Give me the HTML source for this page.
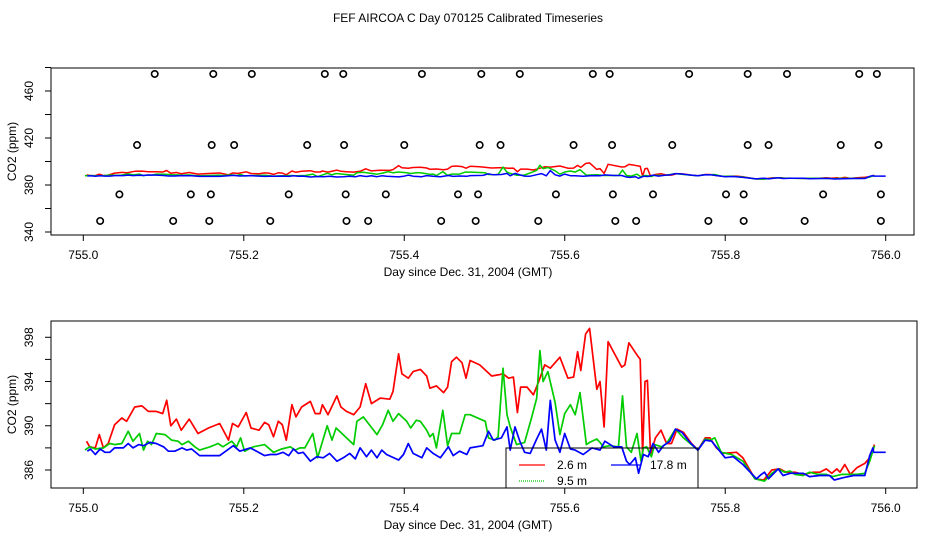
<!DOCTYPE html>
<html><head><meta charset="utf-8"><style>
body{margin:0;background:#fff}
svg{display:block;font-family:"Liberation Sans",sans-serif}
</style></head><body>
<svg id="c" width="936" height="540" viewBox="0 0 936 540"></svg>
<script>
const redDays=[.004,.008,.015,.020,.025,.031,.039,.048,.054,.064,.073,.081,.091,.099,.104,.109,.116,.122,.132,.143,.156,.170,.181,.186,.193,.203,.209,.219,.226,.231,.237,.243,.248,.253,.260,.265,.272,.283,.289,.295,.298,.305,.316,.321,.328,.337,.345,.352,.359,.370,.382,.386,.393,.397,.405,.411,.420,.428,.432,.440,.449,.454,.459,.465,.472,.477,.482,.494,.509,.517,.523,.530,.536,.541,.545,.553,.561,.567,.575,.582,.594,.604,.611,.616,.620,.626,.631,.640,.644,.649,.654,.671,.675,.680,.690,.694,.697,.700,.703,.707,.713,.720,.727,.733,.740,.748,.758,.766,.775,.781,.789,.797,.814,.822,.837,.848,.858,.868,.876,.887,.897,.910,.918,.926,.933,.939,.943,.949,.956,.964,.974,.980,.986];
const redVals=[388.6,388.1,388.0,389.2,388.0,388.4,390.1,390.7,390.4,391.7,391.8,391.3,391.3,391.1,392.3,390.0,390.6,389.6,390.6,389.3,389.8,390.2,388.7,390.2,389.9,391.2,389.8,389.6,390.3,390.1,389.0,390.4,390.1,388.7,391.9,390.8,391.7,392.2,391.1,391.1,391.9,391.0,392.7,391.7,391.3,391.0,391.7,393.8,392.0,392.5,392.4,393.1,396.5,394.7,394.3,394.9,395.1,394.5,393.4,393.6,393.0,393.5,395.8,396.2,395.7,394.3,395.9,395.5,394.5,394.6,394.7,394.3,394.4,391.2,393.5,393.5,392.8,393.9,395.5,395.2,396.2,394.3,394.4,396.7,395.0,398.3,398.8,393.3,394.0,389.9,397.6,395.3,395.5,397.5,396.4,396.0,387.4,394.0,394.1,387.4,388.9,389.6,388.4,388.4,389.7,389.4,388.4,387.8,388.9,388.9,388.0,387.5,387.6,387.1,385.2,385.1,386.0,386.1,385.8,385.8,385.6,385.8,385.8,386.1,385.7,386.1,385.8,386.5,385.6,386.2,386.6,387.1,388.3];
const greenDays=[.002,.008,.015,.025,.033,.039,.048,.056,.062,.070,.075,.080,.085,.091,.102,.110,.118,.123,.131,.139,.145,.158,.168,.174,.185,.191,.196,.201,.212,.226,.237,.247,.258,.264,.270,.276,.286,.292,.304,.310,.315,.337,.341,.349,.366,.373,.380,.386,.393,.403,.408,.415,.420,.428,.432,.436,.440,.448,.454,.459,.469,.476,.482,.501,.505,.513,.517,.523,.528,.532,.540,.550,.559,.565,.569,.573,.579,.588,.594,.600,.607,.613,.619,.627,.631,.640,.644,.648,.656,.667,.669,.672,.677,.683,.690,.695,.698,.702,.708,.712,.721,.727,.738,.748,.758,.766,.775,.781,.787,.795,.808,.822,.837,.849,.858,.866,.874,.881,.887,.897,.905,.916,.926,.934,.945,.955,.964,.974,.980,.986];
const greenVals=[387.8,388.1,387.9,388.0,388.4,388.3,388.4,389.5,388.6,389.3,387.8,388.6,388.3,389.3,389.2,388.7,388.6,388.3,388.6,388.1,387.8,388.1,388.4,388.1,388.6,388.1,388.9,387.7,388.1,388.3,387.6,387.9,388.1,387.8,388.0,388.0,389.3,387.1,390.0,388.7,389.8,388.3,390.4,390.8,389.2,390.1,391.4,390.4,391.1,390.4,389.8,390.5,390.4,389.6,389.0,389.3,388.0,391.4,388.2,389.3,389.3,391.0,391.0,390.4,388.9,388.7,389.0,395.2,391.0,389.9,388.3,388.5,390.8,392.5,396.8,394.0,394.9,392.1,389.2,391.1,391.9,391.0,393.0,388.3,388.5,388.8,388.5,388.1,388.2,388.1,390.0,392.7,388.1,387.6,389.3,386.8,388.0,388.1,387.2,388.3,388.1,388.4,389.7,388.9,388.3,387.8,388.8,388.7,388.9,387.6,387.4,386.8,385.2,385.0,385.7,386.1,385.8,385.9,385.6,385.5,385.8,385.6,385.6,385.4,385.6,385.6,385.6,385.7,386.8,388.2];
const blueDays=[.005,.009,.015,.021,.027,.033,.039,.050,.056,.062,.069,.075,.083,.091,.100,.106,.114,.123,.129,.135,.145,.156,.170,.187,.195,.208,.216,.226,.233,.241,.249,.256,.262,.268,.274,.283,.291,.299,.307,.316,.324,.332,.339,.345,.349,.353,.359,.366,.372,.378,.393,.399,.405,.411,.422,.428,.436,.445,.455,.461,.469,.478,.482,.498,.505,.511,.521,.528,.532,.538,.544,.550,.557,.565,.571,.577,.582,.588,.594,.600,.607,.613,.623,.634,.644,.650,.661,.671,.677,.681,.688,.692,.698,.704,.710,.717,.723,.731,.738,.746,.756,.766,.775,.783,.800,.810,.822,.839,.845,.849,.854,.866,.872,.881,.897,.905,.918,.930,.936,.947,.960,.974,.980,.984,.985,1.000];
const blueVals=[387.7,387.9,387.4,387.9,387.6,387.6,388.0,388.0,388.4,388.0,388.3,388.2,388.5,388.4,388.1,387.7,387.7,388.0,387.8,387.9,387.3,387.3,387.3,388.2,387.7,388.0,387.7,387.3,387.4,387.4,387.6,387.3,387.9,387.5,387.6,386.8,387.2,387.1,387.5,386.8,387.1,387.5,387.0,388.0,387.6,387.2,387.8,387.1,387.8,387.4,386.9,387.4,388.4,387.5,387.1,388.0,387.5,387.1,388.1,387.3,387.7,387.4,388.0,388.2,389.5,388.7,388.9,389.9,387.8,389.9,388.6,387.6,387.5,388.8,389.7,387.8,392.3,388.7,387.6,389.3,387.9,387.8,387.4,388.0,387.8,388.6,388.1,388.1,386.8,386.5,387.1,385.7,387.4,387.2,388.4,387.6,388.2,388.6,389.7,389.4,388.5,387.8,388.7,388.6,387.1,387.2,386.5,385.2,385.6,385.8,385.2,386.1,385.5,385.7,385.7,385.4,385.5,385.5,385.1,385.3,385.5,385.5,387.3,388.0,387.6,387.6];
const circDays=[.089,.162,.210,.301,.324,.422,.496,.544,.635,.656,.755,.828,.877,.967,.989,
 .067,.160,.188,.279,.325,.400,.494,.520,.611,.659,.734,.828,.854,.944,.991,
 .045,.134,.159,.256,.327,.377,.467,.492,.589,.660,.710,.801,.823,.922,.994,
 .021,.112,.157,.233,.328,.355,.446,.489,.567,.663,.689,.779,.823,.899,.994];
const circVals=[474.5,414,372,349.4];
const xTicks=["755.0","755.2","755.4","755.6","755.8","756.0"];
const topYTicks=[340,380,420,460];
const botYTicks=[386,390,394,398];

const svg=document.getElementById('c');
const NS='http://www.w3.org/2000/svg';
function mk(t,a,p){const e=document.createElementNS(NS,t);for(const k in a)e.setAttribute(k,a[k]);(p||svg).appendChild(e);return e;}
function xs(d){return 83.3+d*802.4;}
const P=[{top:68,bot:235,right:914,y:v=>232-(v-340)*1.175,ticks:topYTicks,minor:20,lo:340,hi:480,tag:'top'},
         {top:321,bot:488,right:917,y:v=>470-(v-386)*11.06,ticks:botYTicks,minor:2,lo:386,hi:399,tag:'bottom'}];
let t=mk('text',{x:468,y:22,'text-anchor':'middle','font-size':12});t.textContent='FEF AIRCOA C  Day 070125  Calibrated Timeseries';

P.forEach(p=>{
  const g=mk('g',{});
  const b=mk('rect',{x:51,y:p.top,width:p.right-51,height:p.bot-p.top,fill:'none',stroke:'#000','stroke-width':1},g);
  
  xTicks.forEach((s,i)=>{const x=xs(i*0.2);mk('line',{x1:x,x2:x,y1:p.bot,y2:p.bot+6,stroke:'#000'},g);
    const l=mk('text',{x:x,y:p.bot+24,'text-anchor':'middle','font-size':12},g);l.textContent=s;
    });
  for(let v=p.lo;v<=p.hi;v+=p.minor){const y=p.y(v);mk('line',{x1:45,x2:51,y1:y,y2:y,stroke:'#000'},g);}
  p.ticks.forEach(v=>{const y=p.y(v);const l=mk('text',{x:33,y:y,'text-anchor':'middle','font-size':12,transform:`rotate(-90 33 ${y})`},g);l.textContent=v;
    });
  const xl=mk('text',{x:468,y:p.bot+41,'text-anchor':'middle','font-size':12},g);xl.textContent='Day since Dec. 31, 2004 (GMT)';
  
  const yc=(p.top+p.bot)/2;const yl=mk('text',{x:16,y:yc,'text-anchor':'middle','font-size':12,transform:`rotate(-90 16 ${yc})`},g);yl.textContent='CO2 (ppm)';
  
  [[redDays,redVals,'#f00','red-series'],[greenDays,greenVals,'#0c0','green-series'],[blueDays,blueVals,'#00f','blue-series']].forEach(s=>{
    const pts=s[0].map((d,i)=>xs(d).toFixed(1)+','+p.y(s[1][i]).toFixed(1)).join(' ');
    const pl=mk('polyline',{points:pts,fill:'none',stroke:s[2],'stroke-width':p.tag=='top'?1.5:1.7,'stroke-linejoin':'round'},g);
    
  });
  if(p.tag=='top'){
    circDays.forEach((d,i)=>{const c=mk('circle',{cx:xs(d),cy:p.y(circVals[Math.floor(i/15)]),r:3.2,fill:'none',stroke:'#000','stroke-width':1.6},g);
      });
  }
});
const lg=mk('g',{});
mk('rect',{x:506,y:448,width:192,height:40,fill:'none',stroke:'#000'},lg);
[['2.6 m','#f00',519,545,465,557,''],['9.5 m','#0c0',519,545,481,557,'1,1'],['17.8 m','#00f',611,641,465,650,'']].forEach(e=>{
  const ln=mk('line',{x1:e[2],x2:e[3],y1:e[4],y2:e[4],stroke:e[1],'stroke-width':1.2,'stroke-dasharray':e[6]},lg);
  
  const tx=mk('text',{x:e[5],y:e[4]+4,'font-size':12},lg);tx.textContent=e[0];
  
});
</script>
</body></html>
